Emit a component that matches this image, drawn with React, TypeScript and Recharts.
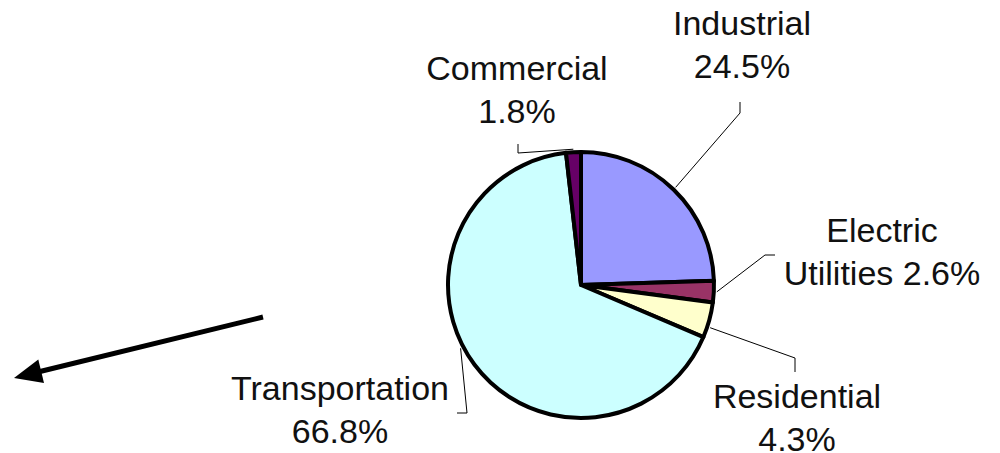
import { PieChart, Pie, Cell } from "recharts";

const sectors = ["Industrial", "Electric Utilities", "Residential", "Transportation", "Commercial"];
const shares = [24.5, 2.6, 4.3, 66.8, 1.8];
const fills = ["#9999FF", "#993366", "#FFFFCC", "#CCFFFF", "#660066"];

// label placement, relative to the pie centre (Excel-style manual layout)
const labelLayout = [
  { shift: 0, elbow: [159, -172], end: [159, -183], text: [161, -250], wrap: false },
  { shift: 0, elbow: [184, -30], end: [194, -30], text: [301, -43], wrap: true },
  { shift: -3, elbow: [214, 73], end: [214, 87], text: [216, 123], wrap: false },
  { shift: -9, elbow: [-114, 128], end: [-124, 128], text: [-241, 115], wrap: false },
  { shift: 0, elbow: [-63, -132], end: [-63, -141], text: [-64, -205], wrap: false },
];

const data = sectors.map((name, i) => ({ name, value: shares[i] }));

const RAD = Math.PI / 180;
const FONT = "'Liberation Sans', Arial, sans-serif";

const renderLabel = (props: any) => {
  const { cx, cy, midAngle, outerRadius, index } = props;
  const lay = labelLayout[index];
  const a = (midAngle + lay.shift) * RAD;
  const r = outerRadius + 3;
  const ax = cx + r * Math.cos(a);
  const ay = cy - r * Math.sin(a);
  const name = sectors[index];
  const pct = `${shares[index].toFixed(1)}%`;
  let lines = [name, pct];
  if (lay.wrap) {
    const sp = name.indexOf(" ");
    lines = [name.slice(0, sp), `${name.slice(sp + 1)} ${pct}`];
  }
  const pts = `${ax},${ay} ${cx + lay.elbow[0]},${cy + lay.elbow[1]} ${cx + lay.end[0]},${cy + lay.end[1]}`;
  return (
    <g key={`lbl-${index}`}>
      <polyline points={pts} fill="none" stroke="#000" strokeWidth={1} />
      {lines.map((t, j) => (
        <text
          key={j}
          x={cx + lay.text[0]}
          y={cy + lay.text[1] + j * 43}
          textAnchor="middle"
          fontFamily={FONT}
          fontSize={34}
          fill="#111"
        >
          {t}
        </text>
      ))}
    </g>
  );
};

export default function App() {
  return (
    <div style={{ position: "absolute", left: 0, top: 0, width: 1000, height: 453, background: "#fff" }}>
      <PieChart width={1000} height={453} margin={{ top: 0, right: 0, bottom: 0, left: 0 }}>
        <Pie
          data={data}
          dataKey="value"
          nameKey="name"
          cx={581}
          cy={285}
          outerRadius={133}
          startAngle={90}
          endAngle={-270}
          stroke="#000"
          strokeWidth={4}
          strokeLinejoin="round"
          label={renderLabel}
          labelLine={false}
          isAnimationActive={false}
        >
          {data.map((d, i) => (
            <Cell key={d.name} fill={fills[i]} />
          ))}
        </Pie>
      </PieChart>
      <svg width={1000} height={453} style={{ position: "absolute", left: 0, top: 0, pointerEvents: "none" }}>
        <line x1={263} y1={317} x2={38} y2={372} stroke="#000" strokeWidth={5} />
        <polygon points="14,378 38.3,359.6 44,383" fill="#000" />
      </svg>
    </div>
  );
}
